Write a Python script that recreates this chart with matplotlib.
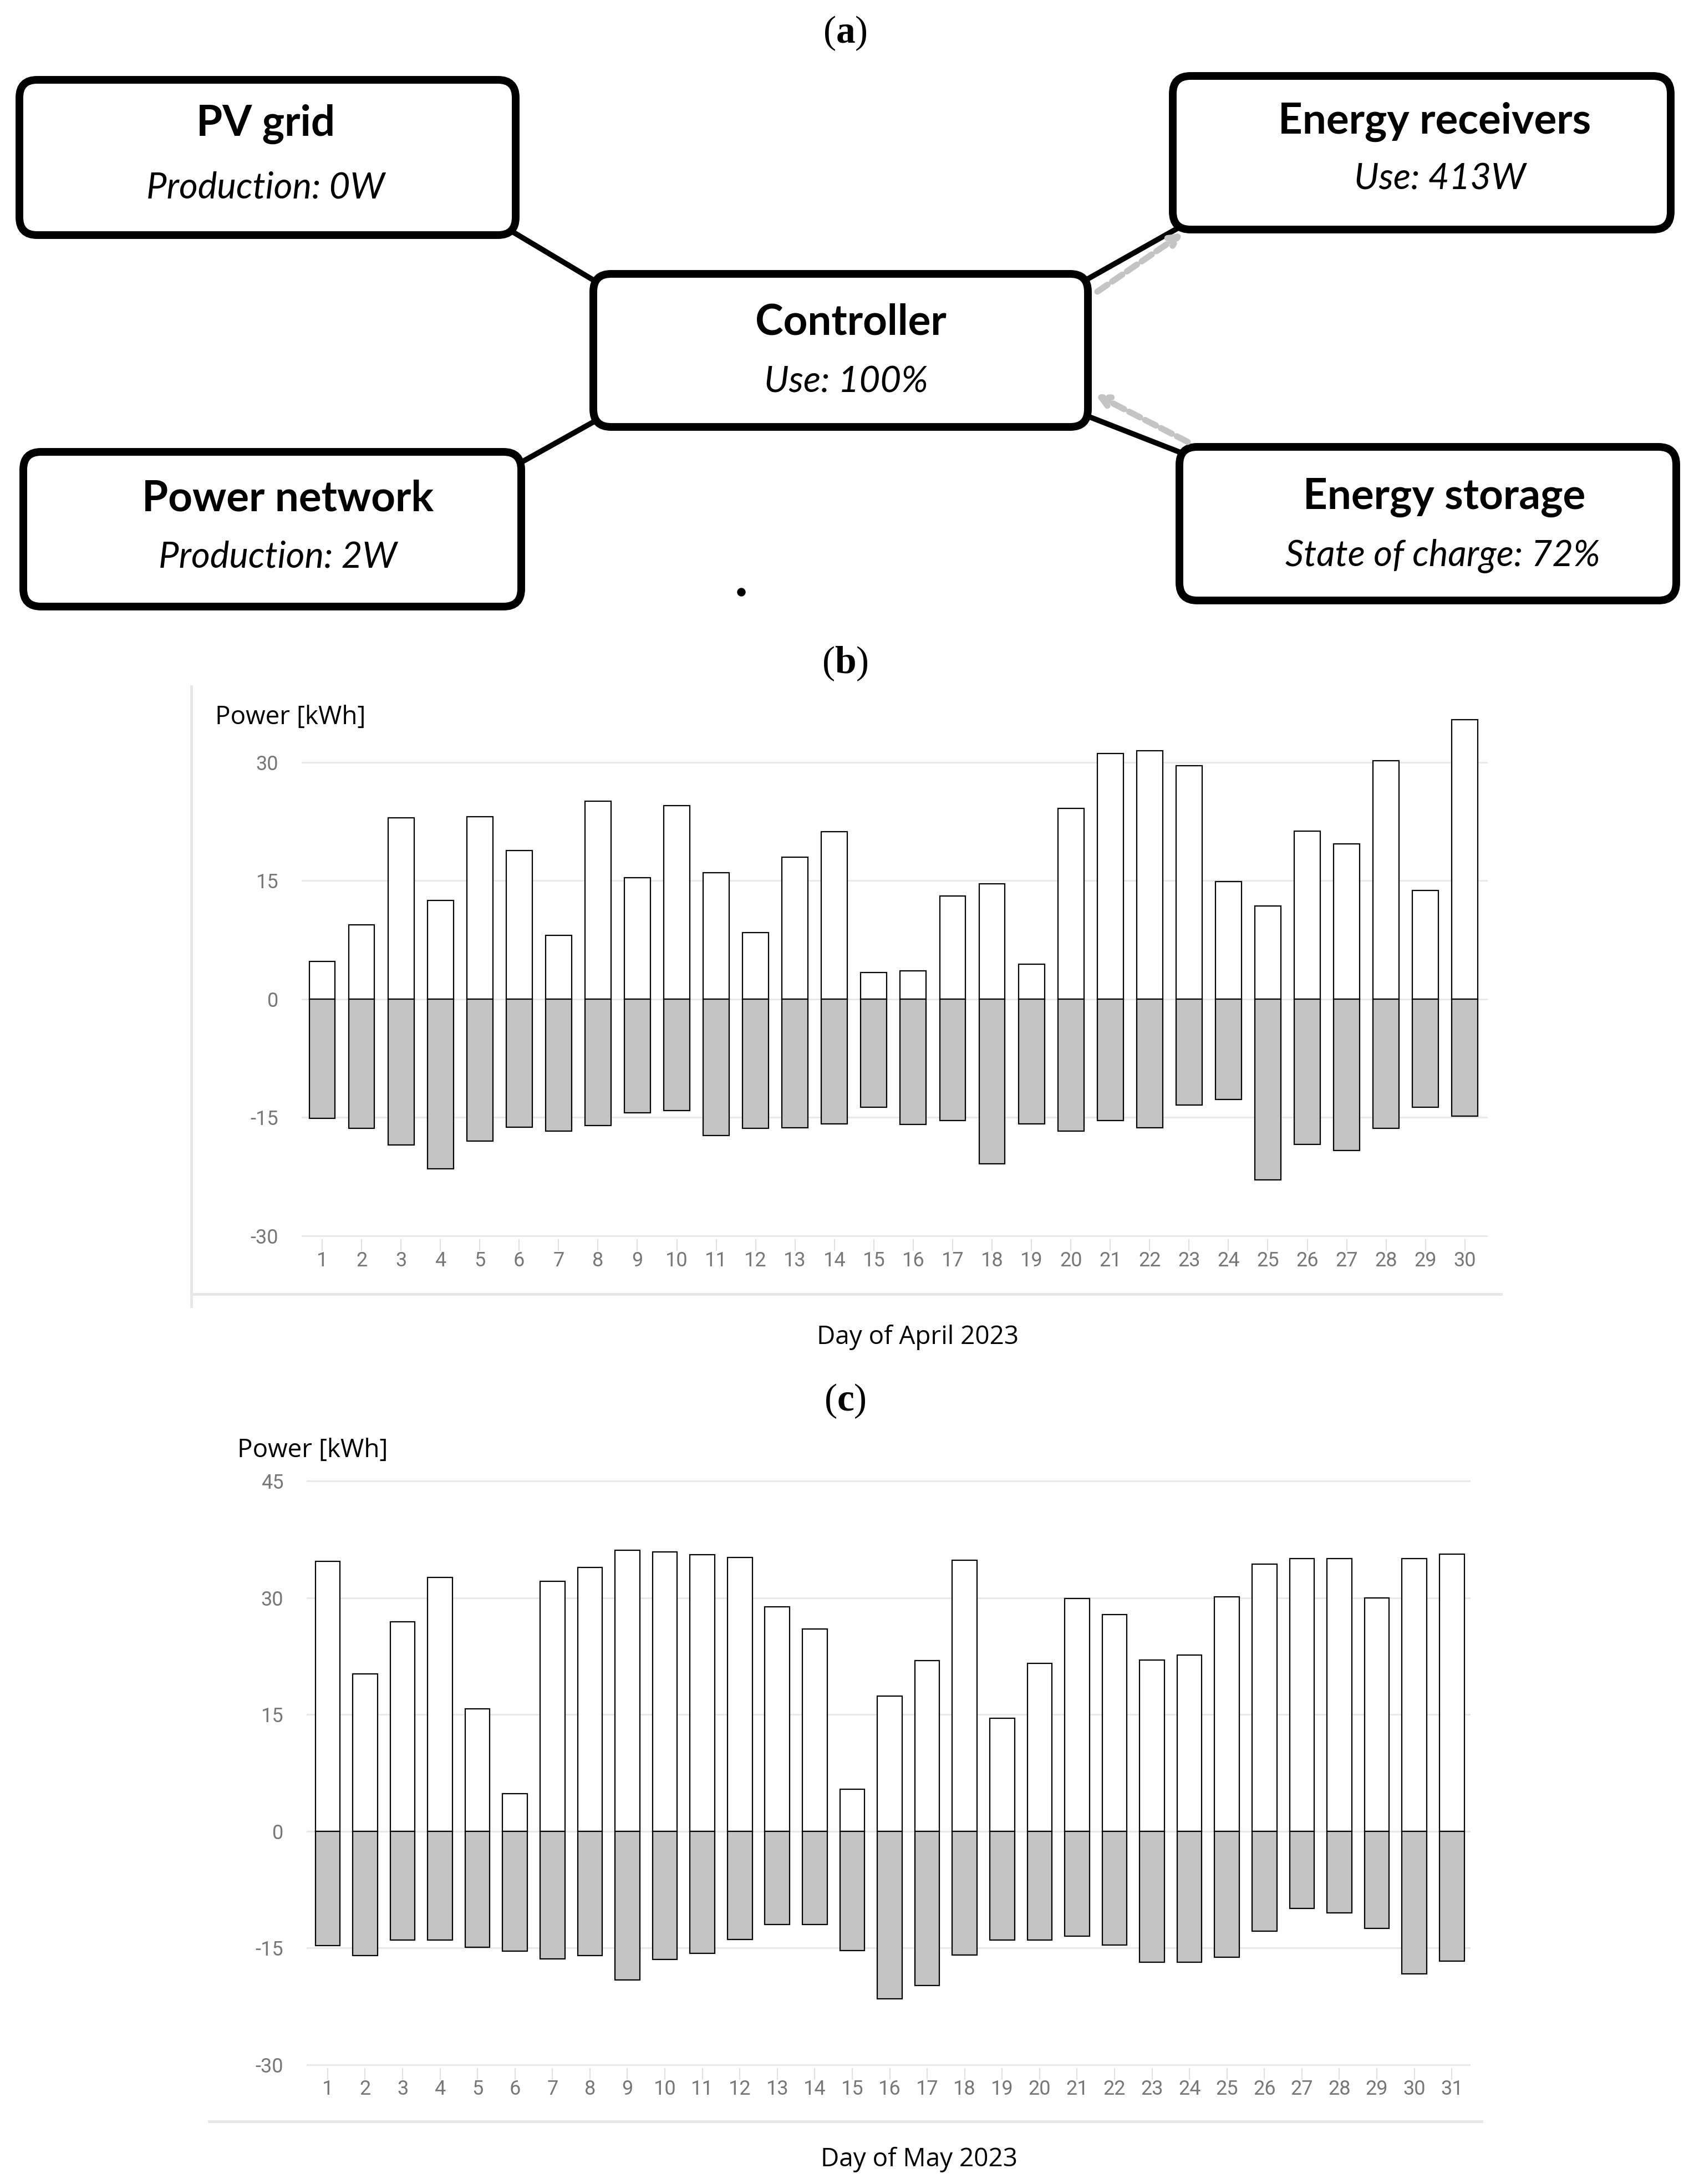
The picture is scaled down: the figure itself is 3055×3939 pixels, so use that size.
import numpy as np
import matplotlib.pyplot as plt
from matplotlib.patches import FancyBboxPatch, Circle

plt.rcParams['mathtext.fontset'] = 'custom'
plt.rcParams['mathtext.rm'] = 'Liberation Serif'
plt.rcParams['mathtext.bf'] = 'Liberation Serif:bold'
plt.rcParams['axes.unicode_minus'] = False

W, H = 3055, 3939
DPI = 100

# daily energy, April 2023
april_days = list(range(1, 31))
april_prod = [4.8, 9.4, 23.0, 12.5, 23.1, 18.8, 8.1, 25.1, 15.4, 24.5,
              16.0, 8.4, 18.0, 21.2, 3.4, 3.6, 13.1, 14.6, 4.4, 24.2,
              31.1, 31.5, 29.6, 14.9, 11.8, 21.3, 19.7, 30.2, 13.8, 35.4]
april_use = [-15.1, -16.4, -18.5, -21.5, -18.0, -16.2, -16.7, -16.0, -14.4, -14.1,
             -17.3, -16.4, -16.3, -15.8, -13.7, -15.9, -15.4, -20.9, -15.8, -16.7,
             -15.4, -16.3, -13.4, -12.7, -22.9, -18.4, -19.2, -16.4, -13.7, -14.8]

# daily energy, May 2023
may_days = list(range(1, 32))
may_prod = [34.7, 20.2, 26.9, 32.6, 15.7, 4.8, 32.1, 33.9, 36.1, 35.9,
            35.5, 35.2, 28.8, 26.0, 5.4, 17.4, 21.9, 34.8, 14.5, 21.6,
            29.9, 27.8, 22.0, 22.6, 30.1, 34.3, 35.0, 35.0, 30.0, 35.0, 35.6]
may_use = [-14.7, -16.0, -14.0, -14.0, -14.9, -15.4, -16.4, -16.0, -19.1, -16.5,
           -15.7, -13.9, -12.0, -12.0, -15.3, -21.5, -19.8, -15.9, -14.0, -14.0,
           -13.5, -14.6, -16.8, -16.8, -16.2, -12.8, -9.9, -10.5, -12.5, -18.3, -16.7]

april_ticks = [-30, -15, 0, 15, 30]
may_ticks = [-30, -15, 0, 15, 30, 45]

# diagram (a)
boxes = [
    ("PV grid", "Production: 0W", 35, 144, 930, 424),
    ("Energy receivers", "Use: 413W", 2115, 137, 3013, 414),
    ("Controller", "Use: 100%", 1070, 494, 1962, 770),
    ("Power network", "Production: 2W", 42, 815, 940, 1094),
    ("Energy storage", "State of charge: 72%", 2127, 806, 3023, 1083),
]
title_pos = [(479, 224), (2587, 220), (1534, 582), (519, 899), (2605, 897)]
sub_pos = [(479, 338), (2597, 322), (1526, 688), (501, 1005), (2602, 1003)]
links = [((916, 413), (1080, 511)), ((936, 836), (1072, 760)),
         ((1960, 504), (2125, 411)), ((1960, 750), (2134, 818))]
flows = [((1979, 526), (2134, 420)), ((2142, 797), (1975, 711))]

fig = plt.figure(figsize=(W / DPI, H / DPI), dpi=DPI)

ov = fig.add_axes([0, 0, 1, 1])
ov.set_xlim(0, W)
ov.set_ylim(H, 0)
ov.axis('off')

for lbl, yy in [("a", 60), ("b", 1197), ("c", 2527)]:
    ov.text(1524, yy, r"($\mathbf{%s}$)" % lbl, fontsize=50, ha='center', va='center',
            family='Liberation Serif')

for (a, b) in links:
    ov.plot([a[0], b[0]], [a[1], b[1]], color='black', lw=7, solid_capstyle='round', zorder=1)

for (a, b) in flows:
    ov.annotate("", xy=b, xytext=a,
                arrowprops=dict(arrowstyle='->,head_length=1.2,head_width=0.6',
                                color='#c4c4c4', lw=8, linestyle=(0, (2.0, 0.9)),
                                shrinkA=0, shrinkB=0))

for i, (t, s, x0, y0, x1, y1) in enumerate(boxes):
    p = FancyBboxPatch((x0, y0), x1 - x0, y1 - y0,
                       boxstyle="round,pad=0,rounding_size=32",
                       fc='white', ec='black', lw=10, zorder=2)
    ov.add_patch(p)
    ov.text(title_pos[i][0], title_pos[i][1], t, fontsize=55, fontweight='bold',
            family='Lato', ha='center', va='center', zorder=3)
    ov.text(sub_pos[i][0], sub_pos[i][1], s, fontsize=47, style='italic',
            family='Lato', ha='center', va='center', zorder=3)

ov.add_patch(Circle((1337, 1068), 7, color='black'))

# light frame lines of the chart panels
ov.plot([345, 345], [1238, 2356], color='#e6e6e6', lw=3.5)
ov.plot([345, 2707], [2334, 2334], color='#e6e6e6', lw=3.5)
ov.plot([377, 2672], [3826, 3826], color='#e6e6e6', lw=3.5)


def px_axes(x0, y0, x1, y1):
    return fig.add_axes([x0 / W, 1 - y1 / H, (x1 - x0) / W, (y1 - y0) / H])


def bar_panel(ax, days, prod, use, ticks, xlim, ylim):
    ax.bar(days, prod, width=0.66, color='white', edgecolor='black', lw=1.6, zorder=3)
    ax.bar(days, use, width=0.66, color='#c4c4c4', edgecolor='black', lw=1.6, zorder=3)
    ax.set_xlim(*xlim)
    ax.set_ylim(*ylim)
    ax.set_yticks(ticks)
    ax.set_xticks(days)
    ax.grid(axis='y', color='#e8e8e8', lw=2.2, zorder=0)
    for sp in ax.spines.values():
        sp.set_visible(False)
    ax.tick_params(axis='y', length=0, pad=30, labelsize=26, labelcolor='#777777')
    ax.tick_params(axis='x', length=15, width=1.5, color='#e0e0e0', pad=0,
                   labelsize=26, labelcolor='#777777')
    for lab in ax.get_xticklabels() + ax.get_yticklabels():
        lab.set_family('Roboto')
    ax.set_facecolor('none')


# panel (b): gridline 30 at y=1375, -30 at y=2229
ppu_b = (2229 - 1375) / 60
axb = px_axes(544, 1375 - 6.5 * ppu_b, 2683, 2229 + 0.4 * ppu_b)
bar_panel(axb, april_days, april_prod, april_use, april_ticks, (0.48, 30.58), (-30.4, 36.5))

# panel (c): gridline 45 at y=2671, -30 at y=3724
ppu_c = (3724 - 2671) / 75
axc = px_axes(553, 2671 - 0.5 * ppu_c, 2652, 3724 + 0.4 * ppu_c)
bar_panel(axc, may_days, may_prod, may_use, may_ticks, (0.44, 31.5), (-30.4, 45.5))

ov.text(388, 1294, "Power [kWh]", fontsize=33, family='Open Sans', ha='left', va='center')
ov.text(1655, 2412, "Day of April 2023", fontsize=33, family='Open Sans', ha='center', va='center')
ov.text(428, 2616, "Power [kWh]", fontsize=33, family='Open Sans', ha='left', va='center')
ov.text(1657, 3895, "Day of May 2023", fontsize=33, family='Open Sans', ha='center', va='center')

fig.savefig("out.png", dpi=DPI)
